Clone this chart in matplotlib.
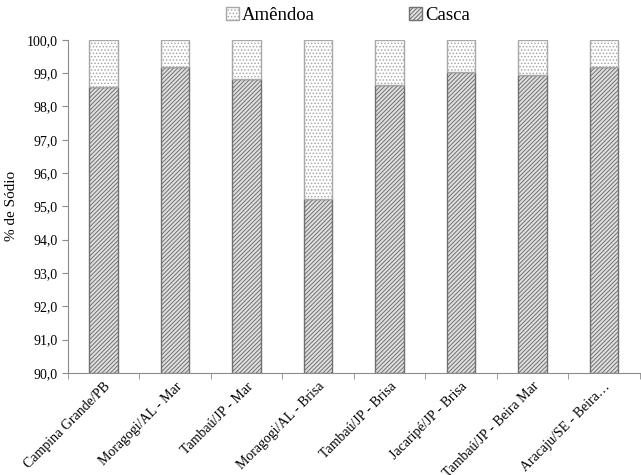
import numpy as np
import matplotlib.pyplot as plt
import matplotlib.ticker as mticker

plt.rcParams['font.family'] = ['Liberation Serif', 'DejaVu Serif']
plt.rcParams['hatch.linewidth'] = 0.7

# Données
locais = ["Campina Grande/PB", "Moragogi/AL - Mar", "Tambaú/JP - Mar",
          "Moragogi/AL - Brisa", "Tambaú/JP - Brisa", "Jacaripé/JP - Brisa",
          "Tambaú/JP - Beira Mar", "Aracaju/SE - Beira…"]
casca = [98.6, 99.2, 98.84, 95.22, 98.65, 99.04, 98.96, 99.2]
amendoa = [100 - c for c in casca]

fig = plt.figure(figsize=(6.41, 4.75), dpi=100)
ax = fig.add_axes([0.106, 0.215, 0.892, 0.701])

x = np.arange(len(locais))
base = 90.0
w = 0.4
cinza = '#8c8c8c'
b1 = ax.bar(x, np.array(casca) - base, w, bottom=base, color='#e0e0e0',
            edgecolor='#707070', hatch='////////', linewidth=1, label='Casca')
b2 = ax.bar(x, amendoa, w, bottom=casca, color='white',
            edgecolor='#a8a8a8', hatch='.....', linewidth=1, label='Amêndoa')

ax.set_ylim(90, 100)
ax.set_xlim(-0.5, len(locais) - 0.5)
ax.yaxis.set_major_locator(mticker.MultipleLocator(1))
ax.yaxis.set_major_formatter(mticker.FuncFormatter(lambda v, p: f"{v:.1f}".replace('.', ',')))
ax.set_xticks(x)
ax.set_xticklabels(locais, rotation=45, ha='right', rotation_mode='anchor', fontsize=10)
ax.set_xticks(np.arange(-0.5, len(locais)), minor=True)
ax.tick_params(axis='x', which='major', length=0, pad=5)
ax.tick_params(axis='x', which='minor', length=4, color=cinza)
ax.tick_params(axis='y', length=4, color=cinza, labelsize=10)
ax.set_ylabel('% de Sódio', fontsize=11, labelpad=0)
ax.yaxis.set_label_coords(-0.088, 0.5)

for s in ['top', 'right']:
    ax.spines[s].set_visible(False)
for s in ['left', 'bottom']:
    ax.spines[s].set_color(cinza)

ax.legend([b2, b1], ['Amêndoa', 'Casca'], loc='lower center', bbox_to_anchor=(0.49, 1.025),
          ncol=2, frameon=False, fontsize=13.5, handlelength=0.7, handleheight=0.7,
          handletextpad=0.15, columnspacing=5, borderaxespad=0)

fig.savefig('out.png', dpi=100)
